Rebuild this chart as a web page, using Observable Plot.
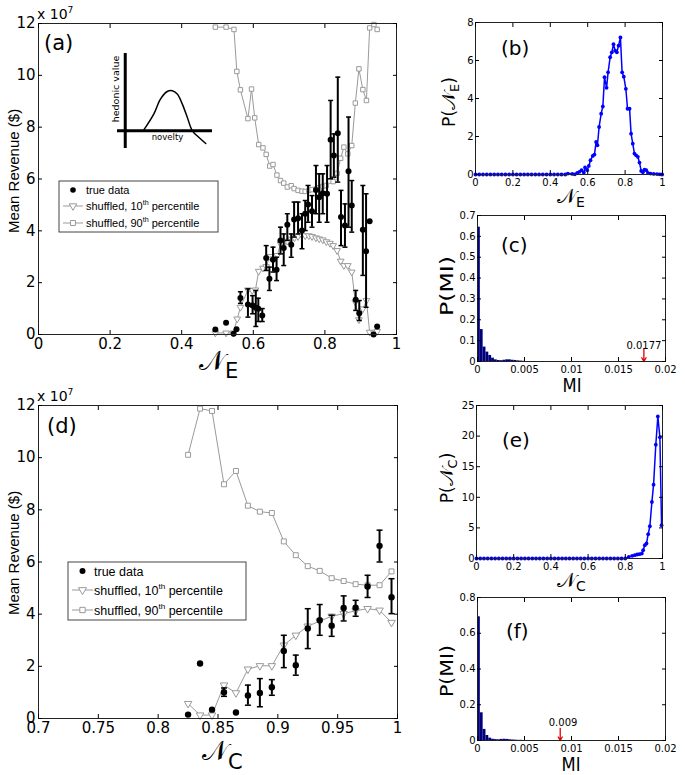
<!DOCTYPE html>
<html><head><meta charset="utf-8">
<script src="https://cdn.jsdelivr.net/npm/d3@7"></script>
<script src="https://cdn.jsdelivr.net/npm/@observablehq/plot@0.6"></script>
<style>
body{margin:0;background:#fff;}
#root{position:relative;width:685px;height:775px;overflow:hidden;font-family:"DejaVu Sans",sans-serif;background:#fff;}
.p{position:absolute;}
.p svg{overflow:visible;}
</style></head><body><div id="root"></div>
<script>
// ---------- Panel (a): mean revenue vs N_E ----------
const aTrueX = [0.494,0.524,0.545,0.553,0.564,0.585,0.598,0.607,0.614,0.625,0.636,0.645,0.655,0.665,0.676,0.685,0.695,0.706,0.714,0.725,0.736,0.745,0.753,0.764,0.775,0.784,0.794,0.806,0.816,0.825,0.836,0.845,0.856,0.866,0.875,0.886,0.896,0.906,0.915,0.925,0.936,0.946];
const aTrueY = [0.19,0.45,0.03,0.2,1.41,1.16,1.12,1.03,0.99,0.73,2.95,2.15,2.88,2.5,3.63,3.34,4.23,3.46,4.44,4.49,4.01,4.66,5.02,4.76,5.58,5.3,5.45,5.43,7.51,6.91,7.77,4.53,4.21,6.3,4.98,1.34,0.82,4.04,3.21,4.37,0.0,0.31];
const aLo = [null,null,null,null,1.2,0.67,0.8,0.31,0.5,0.5,2.47,1.7,2.41,2.08,3.11,2.66,3.63,2.98,3.76,3.88,3.31,4.01,4.33,4.14,4.66,4.33,4.66,4.33,6.01,6.07,5.88,3.43,3.37,4.14,3.95,0.93,0.54,2.28,1.05,null,null,null];
const aHi = [null,null,null,null,1.65,1.76,1.5,1.7,1.4,1.0,3.43,2.6,3.37,2.98,4.14,3.88,4.66,3.88,5.11,5.11,4.66,5.17,5.75,5.36,6.52,6.2,6.2,6.52,9.03,7.74,9.93,5.56,5.04,8.39,5.94,1.7,1.31,5.75,5.43,null,null,null];
const aP90X = [0.494,0.524,0.546,0.554,0.564,0.585,0.595,0.604,0.615,0.627,0.636,0.646,0.655,0.666,0.676,0.685,0.695,0.706,0.714,0.725,0.736,0.745,0.755,0.764,0.775,0.784,0.794,0.804,0.814,0.823,0.834,0.844,0.853,0.864,0.875,0.885,0.895,0.906,0.916,0.925,0.937,0.946];
const aP90Y = [11.86,11.86,11.77,10.15,9.44,8.33,9.47,8.36,7.33,7.2,6.95,6.5,6.56,6.15,5.94,5.84,5.69,5.74,5.63,5.56,5.53,5.52,5.56,5.59,5.61,5.66,5.71,5.75,5.92,5.9,6.22,6.8,7.23,6.97,7.29,8.93,10.25,9.45,9.03,11.83,11.96,11.77];
const aP10X = [0.494,0.524,0.544,0.555,0.564,0.585,0.597,0.606,0.615,0.627,0.636,0.646,0.655,0.667,0.676,0.685,0.695,0.706,0.715,0.725,0.736,0.745,0.755,0.764,0.775,0.784,0.794,0.804,0.814,0.823,0.834,0.844,0.853,0.864,0.875,0.885,0.895,0.906,0.916,0.925,0.937,0.946];
const aP10Y = [0.06,0.06,0.06,0.6,1.05,1.72,1.7,1.72,2.44,2.56,2.62,3.01,2.92,3.05,3.5,3.52,3.6,3.68,3.73,3.78,3.82,3.81,3.81,3.78,3.73,3.69,3.65,3.58,3.52,3.43,3.24,2.83,2.66,2.66,2.41,1.25,0.57,0.99,1.31,0.09,0.06,0.12];
const aXTicks = [0,0.2,0.4,0.6,0.8,1];
const revTicks = [0,2,4,6,8,10,12];

// inset sketch (hedonic value vs novelty), in sketch units
const insetU = [18.3,28.3,35,41.7,46.7,51.7,56.7,61.7,66.7,73.3,80];
const insetV = [0.7,16.7,31.7,39.3,40,36.7,26.7,13.3,0,-6.7,-12.7];

// ---------- Panel (d): mean revenue vs N_C ----------
const dX = [0.825,0.835,0.845,0.855,0.865,0.875,0.885,0.895,0.905,0.915,0.925,0.935,0.945,0.955,0.965,0.975,0.985,0.995];
const dTrueY = [0.15,2.11,0.34,1.01,0.23,0.88,0.98,1.2,2.59,2.04,3.45,3.77,3.56,4.24,4.25,5.06,6.62,4.65];
const dLo = [null,null,null,0.85,null,0.51,0.45,0.89,1.95,1.66,2.68,3.19,3.15,3.74,3.92,4.64,6.0,4.02];
const dHi = [null,null,null,1.17,null,1.28,1.53,1.49,3.19,2.43,4.21,4.37,3.96,4.7,4.53,5.49,7.22,5.36];
const dP90Y = [10.11,11.88,11.79,8.98,9.49,8.16,7.93,7.88,6.79,6.26,5.84,5.66,5.38,5.27,5.15,5.11,5.11,5.64];
const dP10Y = [0.57,0.13,0.13,1.28,0.98,1.89,2.02,2.02,2.81,3.19,3.54,3.73,3.92,4.02,4.13,4.21,4.15,3.68];
const dXTicks = [0.7,0.75,0.8,0.85,0.9,0.95,1];

// ---------- Panel (b): P(N_E) ----------
const bX = [0,0.02,0.04,0.06,0.08,0.1,0.12,0.14,0.16,0.18,0.2,0.22,0.24,0.26,0.28,0.3,0.32,0.34,0.36,0.38,0.4,0.42,0.44,0.46,0.48,
  0.494,0.517,0.531,0.544,0.556,0.567,0.579,0.586,0.597,0.606,0.615,0.627,0.636,0.645,0.652,0.661,0.672,0.681,0.69,0.701,0.709,0.72,0.729,0.738,0.747,0.756,0.765,0.775,0.784,0.793,0.804,0.813,0.824,0.832,0.841,0.85,0.859,0.868,0.877,0.886,0.895,0.904,0.913,0.922,0.936,0.953,0.971,0.985,0.998];
const bY = [0,0,0,0,0,0,0,0,0,0,0,0,0,0,0,0,0,0,0,0,0,0,0,0,0,
  0.05,0.03,0.01,0.09,0.14,0.23,0.1,0.37,0.23,0.45,0.75,0.98,1.05,1.71,1.54,2.5,3.2,3.58,5.12,4.56,5.38,6.17,6.43,6.86,6.52,6.43,6.78,7.21,5.38,5.15,4.51,3.46,3.46,2.15,1.62,1.1,1.01,0.93,0.63,0.19,0.12,0.26,0.23,0.09,0.05,0.03,0.02,0.01,0];
const unitTicks = [0,0.2,0.4,0.6,0.8,1];
const bYTicks = [0,2,4,6,8];

// ---------- Panel (e): P(N_C) ----------
const eX = [0,0.02,0.04,0.06,0.08,0.1,0.12,0.14,0.16,0.18,0.2,0.22,0.24,0.26,0.28,0.3,0.32,0.34,0.36,0.38,0.4,0.42,0.44,0.46,0.48,0.5,0.52,0.54,0.56,0.58,0.6,0.62,0.64,0.66,0.68,0.7,0.72,0.74,0.76,0.78,0.8,
  0.819,0.837,0.851,0.864,0.876,0.889,0.896,0.905,0.914,0.923,0.932,0.943,0.952,0.964,0.975,0.986,0.995];
const eY = [0,0,0,0,0,0,0,0,0,0,0,0,0,0,0,0,0,0,0,0,0,0,0,0,0,0,0,0,0,0,0,0,0,0,0,0,0,0,0,0,0,
  0.27,0.43,0.54,0.65,0.71,0.82,1.36,2.17,2.45,3.97,5.27,9.24,12.07,18.6,23.2,19.8,5.43];
const eYTicks = [0,5,10,15,20,25];

// ---------- Panels (c),(f): histograms of shuffled MI ----------
const binStart = [0,0.0003,0.0006,0.0009,0.0012,0.0015,0.0018,0.0021,0.0024,0.0027,0.003,0.0033,0.0036,0.0039,0.0042,0.0045,0.0048];
const binWidth = 0.0003;
const cHist = [0.644,0.153,0.069,0.045,0.029,0.016,0.008,0.005,0.004,0.006,0.008,0.008,0.006,0.005,0.003,0.002,0.001];
const fHist = [0.692,0.155,0.062,0.028,0.013,0.007,0.005,0.004,0.006,0.007,0.006,0.004,0.003,0.002,0.001,0.001,0];
const cObserved = 0.0177, cObsLabel = "0.0177";
const fObserved = 0.0088, fObsLabel = "0.009";
const miTicks = [0,0.005,0.01,0.015,0.02];
const cYTicks = [0,0.1,0.2,0.3,0.4,0.5,0.6,0.7];
const fYTicks = [0,0.2,0.4,0.6,0.8];

// ---------- helpers ----------
const root = document.getElementById("root");
const fmt = d => String(d);
const GRAY = "#9a9a9a";
const SN = "\u{1D4A9}"; // script N
const capSym = {draw(ctx, size){ const w = Math.sqrt(size/Math.PI); ctx.moveTo(-w,0); ctx.lineTo(w,0);} };

function place(svg, left, top){
  const d = document.createElement("div");
  d.className = "p"; d.style.left = left+"px"; d.style.top = top+"px";
  d.appendChild(svg); root.appendChild(d);
  return d3.select(svg);
}
function axes(xt, yt, fs, pad){
  return [
    Plot.axisX({anchor:"bottom", ticks:xt, tickSize:-4, tickPadding:4+pad[0], tickFormat:fmt, fontSize:fs, label:null}),
    Plot.axisX({anchor:"top", ticks:xt, tickSize:-4, tickFormat:()=>null, label:null}),
    Plot.axisY({anchor:"left", ticks:yt, tickSize:-4, tickPadding:4+pad[1], tickFormat:fmt, fontSize:fs, label:null}),
    Plot.axisY({anchor:"right", ticks:yt, tickSize:-4, tickFormat:()=>null, label:null})
  ];
}
// parts: [string, kind, size?, shift?] kind: null | "sub" | "sup"
function label(sel, x, y, parts, size, opts={}){
  const t = sel.append("text").attr("x", x).attr("y", y)
    .attr("font-family", opts.family || "DejaVu Sans").attr("font-size", size)
    .attr("text-anchor", opts.anchor || "start").attr("fill", "black");
  if (opts.rotate) t.attr("transform", `rotate(-90 ${x} ${y})`);
  if (opts.len) t.attr("textLength", opts.len).attr("lengthAdjust", "spacingAndGlyphs");
  let shift = 0;
  for (const [s, kind, psize, pshift] of parts) {
    const sp = t.append("tspan").text(s);
    let target = 0, fsz = psize || size;
    if (kind === "sub") { target = pshift != null ? pshift : size*0.35; fsz = psize || size*0.75; }
    if (kind === "sup") { target = pshift != null ? pshift : -size*0.45; fsz = psize || size*0.65; }
    sp.attr("font-size", fsz).attr("dy", target - shift);
    shift = target;
  }
  return t;
}
function legend(sel, x, y, w, h, rows, fs, lineX0, lineX1, textX, mr){
  sel.append("rect").attr("x", x).attr("y", y).attr("width", w).attr("height", h)
    .attr("fill", "white").attr("stroke", "#444").attr("stroke-width", 1);
  const mx = (lineX0+lineX1)/2;
  const fam = {family:"Liberation Sans"};
  sel.append("circle").attr("cx", mx).attr("cy", rows[0]).attr("r", mr).attr("fill", "black");
  label(sel, textX, rows[0]+fs*0.36, [["true data"]], fs, fam);
  for (const [i, sym, pct] of [[1,"tri","10"],[2,"sq","90"]]) {
    sel.append("line").attr("x1", lineX0).attr("x2", lineX1).attr("y1", rows[i]).attr("y2", rows[i]).attr("stroke", GRAY);
    const path = sym === "tri" ? d3.symbol(d3.symbolTriangle, mr*mr*Math.PI)() : d3.symbol(d3.symbolSquare, mr*mr*Math.PI)();
    sel.append("path").attr("d", path).attr("transform", `translate(${mx},${rows[i]})` + (sym==="tri"?" rotate(180)":""))
      .attr("fill", "white").attr("stroke", GRAY);
    label(sel, textX, rows[i]+fs*0.36, [["shuffled, "+pct], ["th","sup"], [" percentile"]], fs, fam);
  }
}

function revenuePanel(cfg){
  const tr = cfg.x.map((x,i)=>({x, y:cfg.y[i], lo:cfg.lo[i], hi:cfg.hi[i]}));
  const eb = tr.filter(d=>d.lo!=null);
  const p90 = cfg.p90x.map((x,i)=>({x, y:cfg.p90y[i]}));
  const p10 = cfg.p10x.map((x,i)=>({x, y:cfg.p10y[i]}));
  return Plot.plot({
    width: cfg.w, height: cfg.h, marginLeft: cfg.m[0], marginRight: cfg.m[1], marginTop: cfg.m[2], marginBottom: cfg.m[3],
    style: {background:"transparent", overflow:"visible", fontFamily:"DejaVu Sans"},
    x: {domain: cfg.xd}, y: {domain:[0,12]},
    marks: [
      Plot.line(p90, {x:"x", y:"y", stroke:GRAY, strokeWidth:1}),
      Plot.line(p10, {x:"x", y:"y", stroke:GRAY, strokeWidth:1}),
      Plot.dot(p90, {x:"x", y:"y", symbol:"square", r:cfg.mr, stroke:GRAY, fill:"white", strokeWidth:1}),
      Plot.dot(p10, {x:"x", y:"y", symbol:"triangle", rotate:180, r:cfg.mr, stroke:GRAY, fill:"white", strokeWidth:1}),
      Plot.ruleX(eb, {x:"x", y1:"lo", y2:"hi", stroke:"black", strokeWidth:2}),
      Plot.dot(eb, {x:"x", y:"lo", symbol:capSym, r:cfg.cap, stroke:"black", fill:"none", strokeWidth:1.5}),
      Plot.dot(eb, {x:"x", y:"hi", symbol:capSym, r:cfg.cap, stroke:"black", fill:"none", strokeWidth:1.5}),
      Plot.dot(tr, {x:"x", y:"y", r:cfg.dr, fill:"black"}),
      Plot.frame({stroke:"#222"}),
      ...axes(cfg.xt, revTicks, 15, [4,3])
    ]
  });
}

// ---- (a)
const svgA = revenuePanel({x:aTrueX, y:aTrueY, lo:aLo, hi:aHi, p90x:aP90X, p90y:aP90Y, p10x:aP10X, p10y:aP10Y,
  w:405, h:385, m:[38,9,23,51], xd:[0,1], xt:aXTicks, mr:2.5, cap:2.5, dr:3});
const A = place(svgA, 0, 0);
label(A, 44, 50, [["(a)"]], 21);
label(A, 19, 171, [["Mean Revenue ($)"]], 15, {anchor:"middle", rotate:true, family:"Liberation Sans"});
label(A, 37, 19, [["x 10"], ["7","sup"]], 14);
label(A, 199, 370, [[SN, null, 27], ["E","sub",21,8]], 27);
legend(A, 59, 181, 159, 51, [190,206,223], 11, 63, 83, 86, 2.8);

// inset sketch
const svgI = Plot.plot({
  width: 95, height: 95, margin: 0,
  style: {background:"transparent", overflow:"visible"},
  x: {domain:[-7.7, 86.7], axis:null}, y: {domain:[-17.7, 77.3], axis:null},
  marks: [
    Plot.ruleX([0], {stroke:"black", strokeWidth:3}),
    Plot.ruleY([0], {stroke:"black", strokeWidth:3}),
    Plot.line(insetU.map((u,i)=>({u, v:insetV[i]})), {x:"u", y:"v", curve:"catmull-rom", stroke:"black", strokeWidth:1.5})
  ]
});
place(svgI, 117, 53);
label(A, 119, 89, [["hedonic value"]], 9.5, {anchor:"middle", rotate:true});
label(A, 167.5, 139.5, [["novelty"]], 8.5, {anchor:"middle"});

// ---- (d)
const svgD = revenuePanel({x:dX, y:dTrueY, lo:dLo, hi:dHi, p90x:dX, p90y:dP90Y, p10x:dX, p10y:dP10Y,
  w:405, h:385, m:[38,8,15,57], xd:[0.7,1], xt:dXTicks, mr:2.8, cap:3, dr:3.2});
const D = place(svgD, 0, 390);
label(D, 47, 43, [["(d)"]], 21);
label(D, 19, 163, [["Mean Revenue ($)"]], 15, {anchor:"middle", rotate:true, family:"Liberation Sans"});
label(D, 37, 11, [["x 10"], ["7","sup"]], 14);
label(D, 202, 370, [[SN, null, 27], ["C","sub",21,9]], 27);
legend(D, 68, 172, 178, 58, [181,200,220], 12.5, 72, 93, 94, 3);

// ---- distribution panels
function distPanel(xs, ys, yd, yt, m){
  const data = xs.map((x,i)=>({x, y:ys[i]}));
  return Plot.plot({
    width:255, height:m[4], marginLeft:m[0], marginRight:m[1], marginTop:m[2], marginBottom:m[3],
    style:{background:"transparent", overflow:"visible", fontFamily:"DejaVu Sans"},
    x:{domain:[0,1]}, y:{domain:yd},
    marks:[
      Plot.line(data, {x:"x", y:"y", stroke:"#0000ff", strokeWidth:1.5}),
      Plot.dot(data, {x:"x", y:"y", r:1.9, fill:"#0000ff"}),
      Plot.frame({stroke:"#222"}),
      ...axes(unitTicks, yt, 10, [4,2])
    ]
  });
}
function histPanel(hist, yd, yt, obs, obsLabel, arrowTop, labelY, labelX, m){
  const data = binStart.map((x,i)=>({x1:x, x2:x+binWidth, y:hist[i]}));
  return Plot.plot({
    width:255, height:m[4], marginLeft:m[0], marginRight:m[1], marginTop:m[2], marginBottom:m[3],
    style:{background:"transparent", overflow:"visible", fontFamily:"DejaVu Sans"},
    x:{domain:[0,0.02]}, y:{domain:yd},
    marks:[
      Plot.rectY(data, {x1:"x1", x2:"x2", y:"y", fill:"#00007a"}),
      Plot.arrow([obs], {x1:d=>d, x2:d=>d, y1:arrowTop, y2:0, stroke:"#e00000", strokeWidth:1.3, headLength:5}),
      Plot.text([obsLabel], {x:labelX, y:labelY, text:d=>d, fontSize:10, fill:"black"}),
      Plot.frame({stroke:"#222"}),
      ...axes(miTicks, yt, 10, [4,2])
    ]
  });
}

const B = place(distPanel(bX, bY, [0,8], bYTicks, [45,23,22,21,195]), 430, 0);
label(B, 71, 55, [["(b)"]], 20);
label(B, 25, 102, [["P("], [SN, null, 19], ["E","sub",13,4], [")"]], 17, {anchor:"middle", rotate:true});
label(B, 127, 203, [[SN, null, 20], ["E","sub",14,4]], 20);

const C = place(histPanel(cHist, [0,0.7], cYTicks, cObserved, cObsLabel, 0.062, 0.077, cObserved, [47,20,15,29,190]), 430, 200);
label(C, 71, 52, [["(c)"]], 20);
label(C, 23, 86, [["P(MI)"]], 18, {anchor:"middle", rotate:true, len:60});
label(C, 142, 192, [["MI"]], 19, {anchor:"middle", len:19});

const E = place(distPanel(eX, eY, [0,25], eYTicks, [46,23,15,27,195]), 430, 390);
label(E, 72, 57, [["(e)"]], 20);
label(E, 23, 88, [["P("], [SN, null, 19], ["C","sub",13,4], [")"]], 17, {anchor:"middle", rotate:true});
label(E, 127, 197, [[SN, null, 20], ["C","sub",14,4]], 20);

const F = place(histPanel(fHist, [0,0.8], fYTicks, fObserved, fObsLabel, 0.067, 0.097, 0.0091, [47,20,12,35,190]), 430, 585);
label(F, 76, 53, [["(f)"]], 20);
label(F, 23, 86, [["P(MI)"]], 17, {anchor:"middle", rotate:true, len:52});
label(F, 141, 186, [["MI"]], 19, {anchor:"middle", len:19});
</script></body></html>
